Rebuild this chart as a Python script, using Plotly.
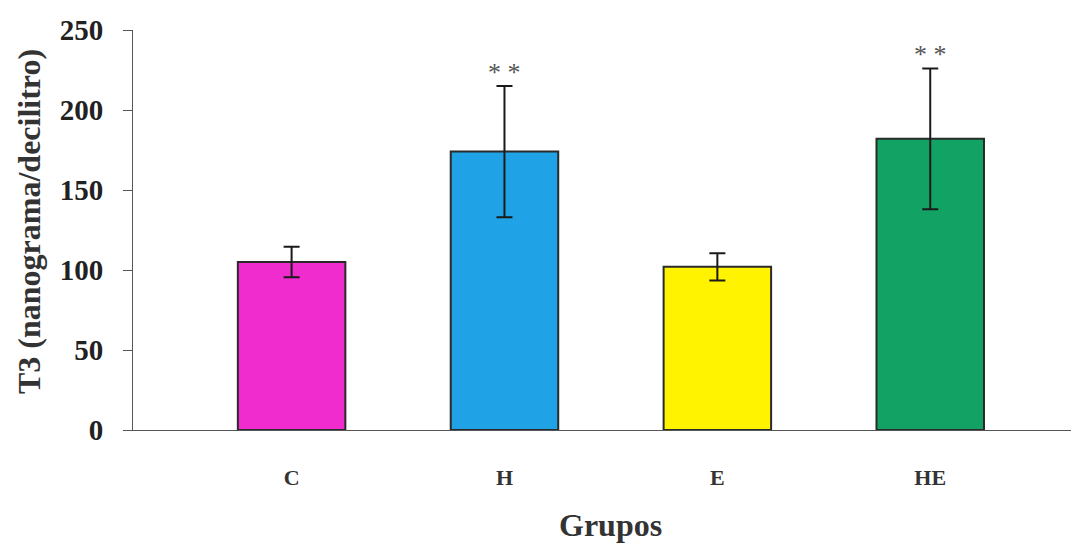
import plotly.graph_objects as go

categories = ["C", "H", "E", "HE"]
values = [105, 174, 102, 182]
errors = [9.5, 41, 8.5, 44]
colors = ["#F02CCF", "#1FA2E6", "#FFF300", "#12A264"]
marks = ["", "* *", "", "* *"]

x = list(range(len(categories)))

fig = go.Figure()
fig.add_trace(go.Bar(
    x=x, y=values, width=0.505,
    marker=dict(color=colors, line=dict(color="#2a2a2a", width=2)),
    error_y=dict(type="data", array=errors, visible=True, color="#1a1a1a", thickness=2, width=8),
    showlegend=False,
))

for xi, v, e, m in zip(x, values, errors, marks):
    if m:
        fig.add_annotation(x=xi, y=v + e, text=m, showarrow=False, yanchor="bottom", yshift=-3,
                           font=dict(family="Liberation Serif", size=26, color="#555555"))

fig.add_annotation(xref="paper", yref="paper", x=(610 - 133) / 942, y=-0.2375,
                   text="<b>Grupos</b>", showarrow=False, xanchor="center", yanchor="middle",
                   font=dict(family="Liberation Serif", size=32, color="#333333"))
fig.add_annotation(xref="paper", yref="paper", x=-104 / 942, y=0.52,
                   text="<b>T3 (nanograma/decilitro)</b>", showarrow=False, textangle=-90,
                   xanchor="center", yanchor="middle",
                   font=dict(family="Liberation Serif", size=32, color="#333333"))

fig.update_layout(
    width=1071, height=541,
    margin=dict(l=125, r=4, t=22, b=119),
    paper_bgcolor="white", plot_bgcolor="white",
    font=dict(family="Liberation Serif", color="#222222"),
)
fig.update_xaxes(
    range=[-0.745, 3.68], tickvals=x, ticktext=[f"<b>{c}</b>" for c in categories],
    tickfont=dict(size=22, color="#333333"), showline=True, linecolor="#555555", linewidth=1,
    ticks="", showgrid=False, zeroline=False, ticklabelstandoff=28, automargin=False,
)
fig.update_yaxes(
    range=[0, 250], tickvals=[0, 50, 100, 150, 200, 250],
    ticktext=[f"<b>{t}</b>" for t in [0, 50, 100, 150, 200, 250]],
    tickfont=dict(size=29, color="#222222"), showline=True, linecolor="#555555", linewidth=1,
    ticks="outside", ticklen=9, tickcolor="#555555", showgrid=False, zeroline=False,
    ticklabelstandoff=14, automargin=False,
)

fig.write_html("out.html")
